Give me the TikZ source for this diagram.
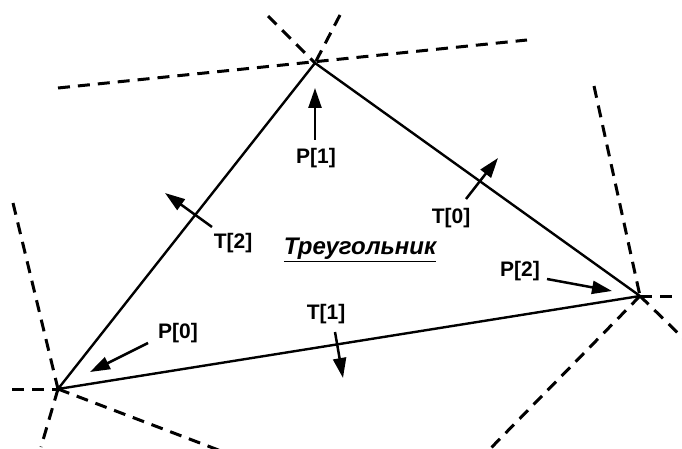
\documentclass[tikz,border=0pt]{standalone}
\usepackage{fontspec}
\setmainfont{Liberation Sans}
\usetikzlibrary{arrows.meta}

\begin{document}
\begin{tikzpicture}[
    x=1pt, y=-1pt, font=\fontsize{21}{25}\selectfont\bfseries,
    side/.style={line width=2.4pt, line join=miter},
    ext/.style={line width=3pt, dash pattern=on 12pt off 8pt},
    vec/.style={-{Triangle[length=20pt,width=13pt]}, line width=2.5pt},
    lbl/.style={inner sep=0pt},
  ]
  \useasboundingbox (0,0) rectangle (682,449);

  % ---- vertices
  \coordinate (p0) at (58,389);
  \coordinate (p1) at (315,63);
  \coordinate (p2) at (640,296);

  % ---- dashed lines through the vertices
  \coordinate (e1a) at (58,88);
  \coordinate (e1b) at (527,40);
  \coordinate (e1c) at (268,16);
  \coordinate (e1d) at (340,15);
  \draw[ext] (e1a) -- (e1b);
  \draw[ext] (e1c) -- (p1);
  \draw[ext] (e1d) -- (p1);

  \coordinate (e2a) at (594,86);
  \coordinate (e2b) at (677,296);
  \coordinate (e2c) at (684,339);
  \coordinate (e2d) at (488,451);
  \draw[ext] (e2a) -- (p2);
  \draw[ext] (p2) -- (e2b);
  \draw[ext] (p2) -- (e2c);
  \draw[ext] (p2) -- (e2d);

  \coordinate (e0a) at (13,203);
  \coordinate (e0b) at (12,389);
  \coordinate (e0c) at (41,447);
  \coordinate (e0d) at (221,451);
  \draw[ext] (e0a) -- (p0);
  \draw[ext] (e0b) -- (p0);
  \draw[ext] (p0) -- (e0c);
  \draw[ext] (p0) -- (e0d);

  % ---- the triangle
  \draw[side] (p0) -- (p1) -- (p2) -- cycle;

  % ---- point vectors
  \coordinate (v1s) at (315,140);
  \coordinate (v1e) at (315,88);
  \coordinate (v2s) at (547,279);
  \coordinate (v2e) at (612,291);
  \coordinate (v0s) at (148,343);
  \coordinate (v0e) at (90,372);
  \draw[vec] (v1s) -- (v1e);
  \draw[vec] (v2s) -- (v2e);
  \draw[vec] (v0s) -- (v0e);
  \node[lbl] (lp1) at (316,158) {P[1]};
  \node[lbl] (lp2) at (520,271) {P[2]};
  \node[lbl] (lp0) at (178,333) {P[0]};

  % ---- side normals
  \coordinate (n0s) at (466,199);
  \coordinate (n0e) at (498,158);
  \coordinate (n1s) at (335,332);
  \coordinate (n1e) at (343,378);
  \coordinate (n2s) at (212,227);
  \coordinate (n2e) at (165,193);
  \draw[vec] (n0s) -- (n0e);
  \draw[vec] (n1s) -- (n1e);
  \draw[vec] (n2s) -- (n2e);
  \node[lbl] (lt0) at (451,218) {T[0]};
  \node[lbl] (lt1) at (326,314) {T[1]};
  \node[lbl] (lt2) at (233,243) {T[2]};

  % title
  \node[lbl, font=\fontsize{24}{28}\selectfont\bfseries] (title) at (360,250)
       {\underline{\itshape Треугольник}};
\end{tikzpicture}
\end{document}
